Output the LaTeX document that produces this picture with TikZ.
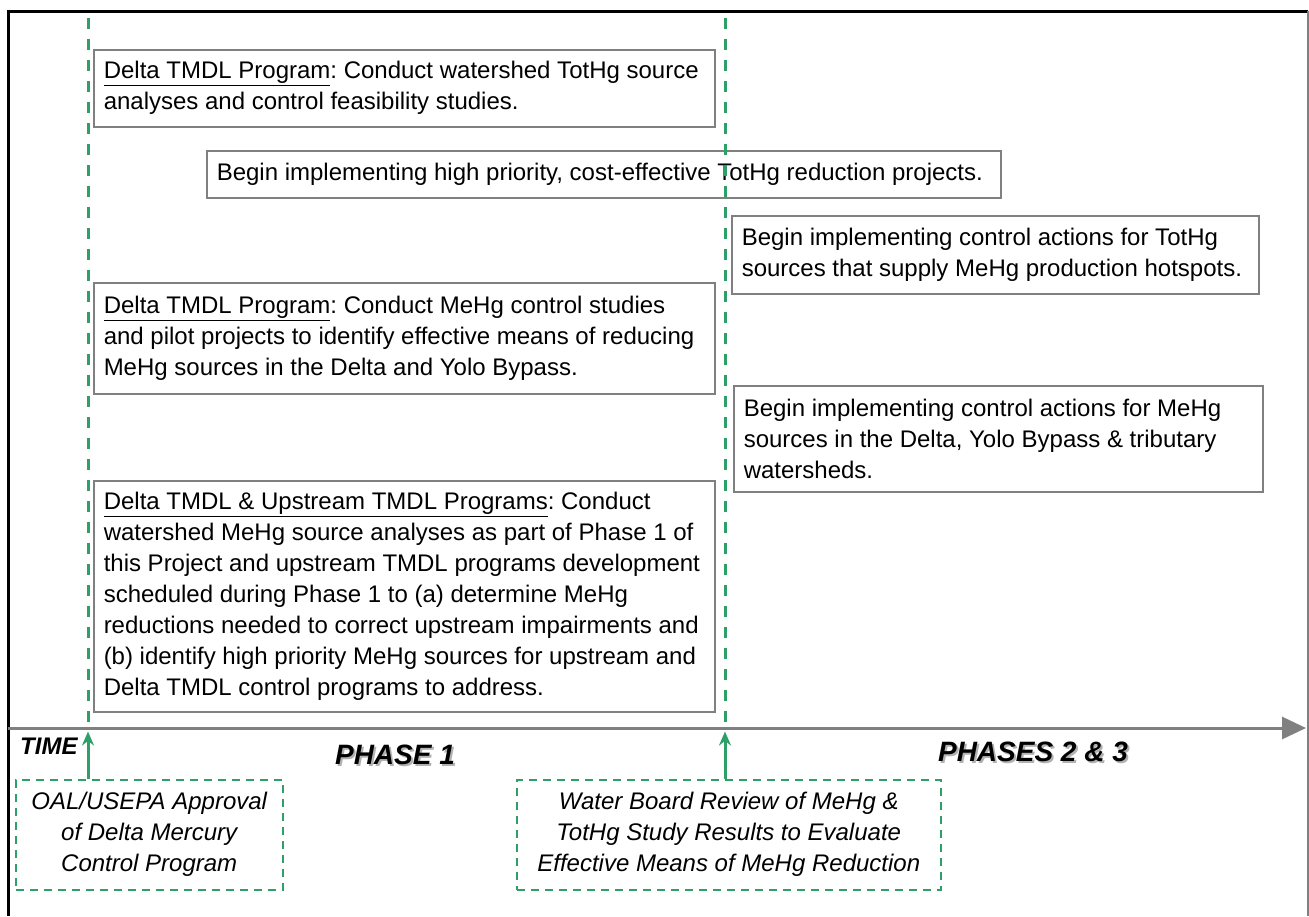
\documentclass[tikz,border=0pt]{standalone}
\usepackage{fontspec}
\setmainfont{Liberation Sans}
\usetikzlibrary{arrows.meta,positioning}
\definecolor{hggreen}{RGB}{46,160,103}
\definecolor{boxgray}{RGB}{128,128,128}

\begin{document}
\frenchspacing
\begin{tikzpicture}[x=1pt,y=-1pt,
  task/.style={draw=boxgray,line width=1.5pt,fill=white,anchor=north west,align=flush left,
    inner xsep=10pt,inner ysep=0pt,font=\fontsize{24}{31}\selectfont},
  review/.style={draw=hggreen,line width=1.5pt,dash pattern=on 8pt off 6pt,anchor=north west,
    align=flush center,inner sep=0pt,font=\fontsize{24}{31}\selectfont\itshape},
  phase/.style={inner sep=0pt,font=\fontsize{28}{30}\selectfont\bfseries\itshape},
  milestone/.style={hggreen,line width=3pt,dash pattern=on 11pt off 10pt},
  rise/.style={hggreen,line width=3pt,shorten >=3.5pt,-{Stealth[length=14pt,width=12pt]}}]
\useasboundingbox (0,0) rectangle (1309,916);
% frame
\draw[line width=3pt] (8,916) -- (8,11) -- (1308,11);
\draw[boxgray,line width=2pt] (1308,11) -- (1308,916);
% time axis
\coordinate (t0) at (8,728);
\coordinate (t9) at (1306,728);
\draw[boxgray,line width=3pt,-{Triangle[length=24pt,width=22pt]}] (t0) -- (t9);
%
\node[task,text width=601pt,minimum height=77pt] (totsrc) at (93,49)
  {\underline{Delta TMDL Program}: Conduct watershed TotHg source\\analyses and control feasibility studies.};
\node[task,text width=774pt,minimum height=47pt] (totred) at (206,150)
  {Begin implementing high priority, cost-effective TotHg reduction projects.};
\node[task,text width=507pt,minimum height=78pt] (tothot) at (731,215)
  {Begin implementing control actions for TotHg\\sources that supply MeHg production hotspots.};
\node[task,text width=601pt,minimum height=111pt] (mestudy) at (93,282)
  {\underline{Delta TMDL Program}: Conduct MeHg control studies\\and pilot projects to identify effective means of reducing\\MeHg sources in the Delta and Yolo Bypass.};
\node[task,text width=509pt,minimum height=106pt] (meact) at (733,385)
  {Begin implementing control actions for MeHg\\sources in the Delta, Yolo Bypass \& tributary\\watersheds.};
\node[task,text width=601pt,minimum height=231pt] (mesrc) at (93,480)
  {\underline{Delta TMDL \& Upstream TMDL Programs}: Conduct\\watershed MeHg source analyses as part of Phase 1 of\\this Project and upstream TMDL programs development\\scheduled during Phase 1 to (a) determine MeHg\\reductions needed to correct upstream impairments and\\(b) identify high priority MeHg sources for upstream and\\Delta TMDL control programs to address.};
%
\coordinate (m1top) at (88,18);
\coordinate (m1) at (88,728);
\coordinate (m2top) at (725,18);
\coordinate (m2) at (725,728);
\draw[milestone] (m1top) -- (m1);
\draw[milestone] (m2top) -- (m2);
%
\node[review,minimum width=267pt,minimum height=110pt] (approval) at (15,779)
  {OAL/USEPA Approval\\of Delta Mercury\\Control Program};
\node[review,minimum width=424pt,minimum height=110pt] (boardrev) at (516,779)
  {Water Board Review of MeHg \&\\TotHg Study Results to Evaluate\\Effective Means of MeHg Reduction};
\draw[rise] (approval.north -| m1) -- (m1);
\draw[rise] (boardrev.north -| m2) -- (m2);
%
\node[inner sep=0pt,anchor=west,font=\fontsize{24}{24}\selectfont\bfseries\itshape] (time) at (20,746.5) {TIME};
\node[phase,text=gray!60] (p1s) at (397,757) {PHASE 1};
\node[phase] (p1) at (395,755) {PHASE 1};
\node[phase,text=gray!60] (p23s) at (1035,753.5) {PHASES 2 \& 3};
\node[phase] (p23) at (1033,751.5) {PHASES 2 \& 3};
\end{tikzpicture}
\end{document}
